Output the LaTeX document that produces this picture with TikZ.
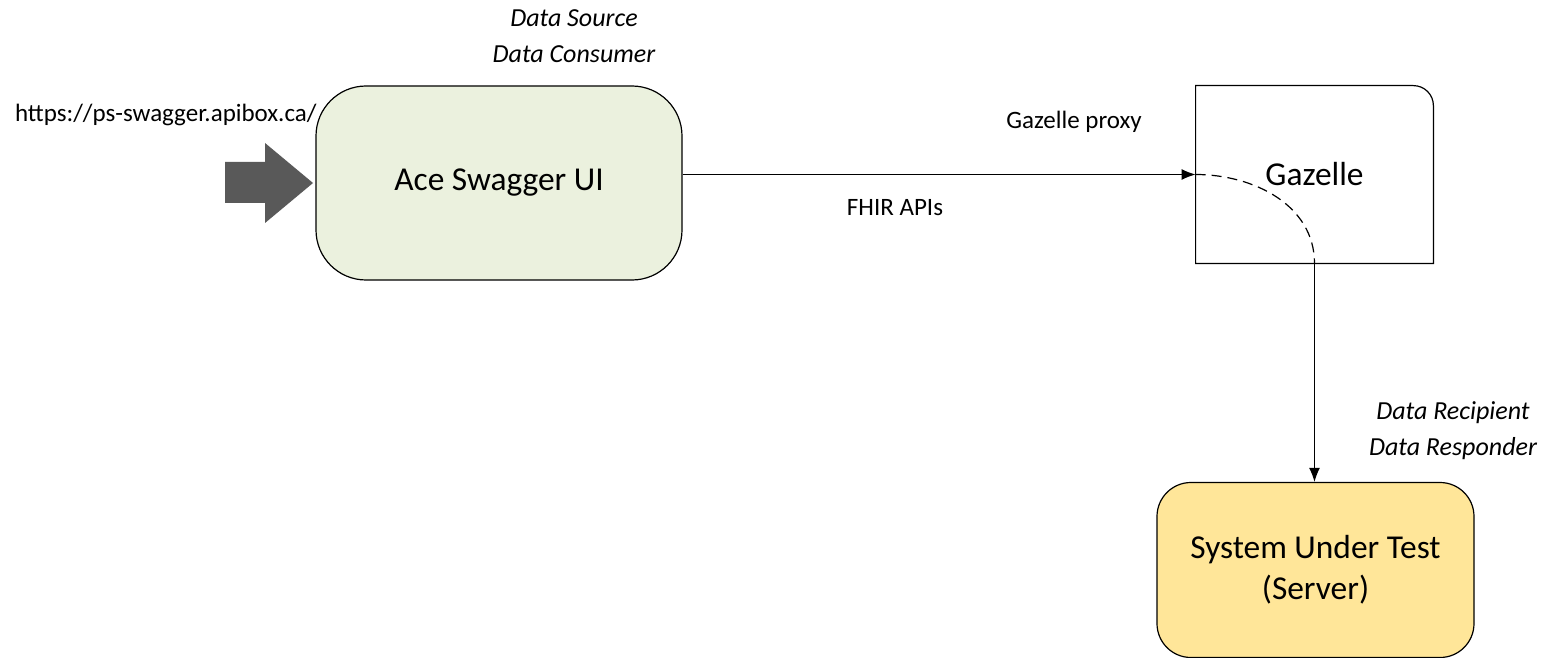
\documentclass[tikz,border=0pt]{standalone}
\usepackage{fontspec}
\setmainfont{Carlito}
\usetikzlibrary{arrows.meta,positioning}
\definecolor{uigreen}{HTML}{EBF1DE}
\definecolor{sutyellow}{HTML}{FFE699}
\definecolor{arrowgray}{HTML}{595959}

\begin{document}
\begin{tikzpicture}[
                      x = 0.5pt,
                      y = -0.5pt,
      every node/.style = {inner sep=0pt},
        bigtext/.style  = {font=\fontsize{16.7}{20.5}\selectfont, align=center},
      smalltext/.style  = {font=\fontsize{12.5}{18}\selectfont},
       roletext/.style  = {font=\fontsize{13}{18}\selectfont\itshape, align=center},
          uibox/.style  = {draw, line width=0.6pt, fill=uigreen, rounded corners=25pt,
                           minimum width=183pt, minimum height=97pt},
         sutbox/.style  = {draw, line width=0.6pt, fill=sutyellow, rounded corners=17pt,
                           minimum width=158.5pt, minimum height=87.5pt},
       proxybox/.style  = {minimum width=118.5pt, minimum height=88.5pt},
           link/.style  = {draw, line width=0.6pt, -{Latex[length=7pt,width=5.5pt]}},
                     ]
\useasboundingbox (0,0) rectangle (1560,658);

\node[uibox, bigtext] (ace) at (499,183) {Ace Swagger UI};
\node[proxybox, bigtext] (gaz) at (1314.5,174.5) {Gazelle};
\node[sutbox, bigtext] (sut) at (1315.5,570) {System Under Test\\(Server)};

\node[roletext] (srcrole) at (574,36) {Data Source\\Data Consumer};
\node[roletext] (sutrole) at (1453,431) {Data Recipient\\Data Responder};

% block arrow pointing into the swagger box
\coordinate (entry) at (313,183);
\fill[arrowgray] (entry) -- (265,143) -- (265,162) -- (225,162)
    -- (225,203) -- (265,203) -- (265,223) -- cycle;
\node[smalltext, anchor=east] (url) at (317,115) {https://ps-swagger.apibox.ca/};

% outline of the proxy, only the top right corner is round
\draw[line width=0.6pt] (gaz.south west) -- (gaz.north west)
    -- ([xshift=-10pt]gaz.north east) arc[start angle=90, end angle=0, radius=10pt]
    -- (gaz.south east) -- cycle;

\draw[link] (ace.east |- gaz.west) -- (gaz.west);
\node[smalltext] (proxylbl) at (1074,122) {Gazelle proxy};
\node[smalltext] (apilbl) at (895,208) {FHIR APIs};

\draw[line width=0.6pt, dash pattern=on 5pt off 3pt] (gaz.west) to[out=0, in=90] (gaz.south);
\draw[link] (gaz.south) -- (gaz.south |- sut.north);
\end{tikzpicture}
\end{document}
